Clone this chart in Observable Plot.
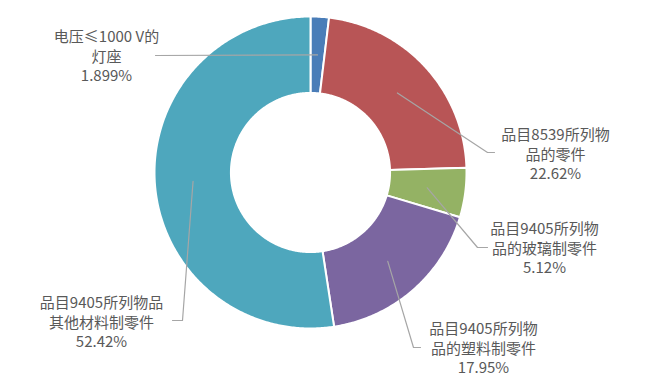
<!DOCTYPE html>
<html>
<head>
<meta charset="utf-8">
<script src="https://cdn.jsdelivr.net/npm/d3@7"></script>
<script src="https://cdn.jsdelivr.net/npm/@observablehq/plot@0.6"></script>
<style>
  html, body { margin: 0; padding: 0; background: #fff; }
  #chart { width: 649px; height: 387px; }
</style>
</head>
<body>
<div id="chart"></div>
<script>
// ---- data ----
const categories = [
  "电压≤1000 V的\n灯座",
  "品目8539所列物\n品的零件",
  "品目9405所列物\n品的玻璃制零件",
  "品目9405所列物\n品的塑料制零件",
  "品目9405所列物品\n其他材料制零件"
];
const shares = [1.899, 22.62, 5.12, 17.95, 52.42];
const colors = ["#4a7db8", "#b85556", "#94b264", "#7b66a0", "#4ea7bd"];

// ---- layout ----
const W = 649, H = 387;
const CX = 310, CY = 172, R = 156;     // pixel centre & outer radius
const INNER = 0.51;                    // inner radius as fraction of outer
const toX = px => (px - CX) / R;
const toY = py => (CY - py) / R;
// label block centres (pixels) and leader-line elbows (pixels)
const labelPos = [[106, 55], [555, 153], [544, 247], [483, 347], [101, 321]];
const elbows = [
  [[155, 55]],
  [[487, 152], [494, 152]],
  [[477, 247], [487, 247]],
  [[413, 347], [420, 347]],
  [[182, 320], [172, 320]]
];

// ---- derived geometry ----
const total = d3.sum(shares);
const cum = d3.cumsum(shares);
const slices = shares.map((v, i) => ({
  name: categories[i],
  a0: ((cum[i] - v) / total) * 2 * Math.PI,
  a1: (cum[i] / total) * 2 * Math.PI
}));
const pt = (a, r) => ({x: r * Math.sin(a), y: r * Math.cos(a)});
const polys = [];
slices.forEach((s, i) => {
  const n = Math.max(4, Math.ceil((s.a1 - s.a0) / 0.01));
  for (let k = 0; k <= n; k++) {
    const a = s.a0 + (s.a1 - s.a0) * k / n;
    polys.push({...pt(a, 1), name: s.name, i});
  }
  for (let k = n; k >= 0; k--) {
    const a = s.a0 + (s.a1 - s.a0) * k / n;
    polys.push({...pt(a, INNER), name: s.name, i});
  }
});
const leaders = [];
slices.forEach((s, i) => {
  const m = (s.a0 + s.a1) / 2;
  leaders.push({...pt(m, (1 + INNER) / 2), i});
  elbows[i].forEach(([px, py]) => leaders.push({x: toX(px), y: toY(py), i}));
});
const labels = slices.map((s, i) => ({
  x: toX(labelPos[i][0]),
  y: toY(labelPos[i][1]),
  text: s.name + "\n" + shares[i] + "%"
}));

const chart = Plot.plot({
  width: W,
  height: H,
  margin: 0,
  x: {domain: [-1, 1], range: [CX - R, CX + R], axis: null},
  y: {domain: [-1, 1], range: [CY + R, CY - R], axis: null},
  color: {domain: categories, range: colors},
  style: {background: "#fff", fontFamily: "'Noto Sans CJK SC', 'Noto Sans', sans-serif"},
  marks: [
    Plot.line(polys, {x: "x", y: "y", z: "name", fill: "name", stroke: "#fff", strokeWidth: 2, curve: "linear-closed"}),
    Plot.line(leaders, {x: "x", y: "y", z: "i", stroke: "#a6a6a6", strokeWidth: 1.2}),
    Plot.text(labels, {x: "x", y: "y", text: "text", fontSize: 15, lineHeight: 1.3, fill: "#595959", textAnchor: "middle", lineAnchor: "middle"})
  ]
});
document.getElementById("chart").appendChild(chart);
</script>
</body>
</html>
